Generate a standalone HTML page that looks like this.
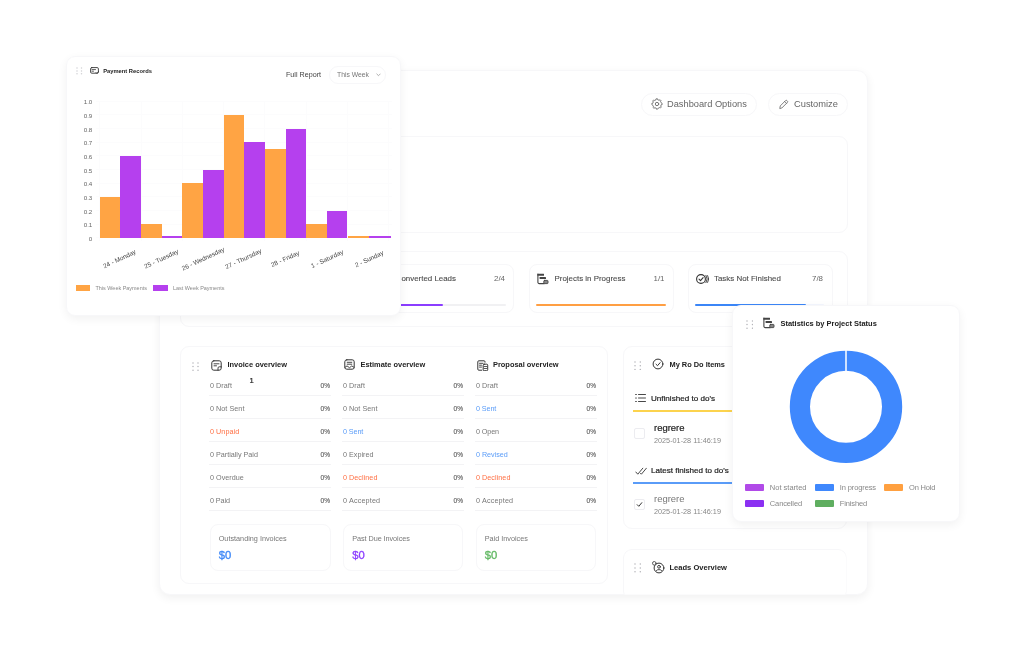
<!DOCTYPE html>
<html><head><meta charset="utf-8"><title>Dashboard</title>
<style>
html,body{margin:0;padding:0;background:#fff;}
body{width:1024px;height:651px;position:relative;overflow:hidden;font-family:"Liberation Sans",sans-serif;}
#w{position:absolute;left:0;top:0;width:1024px;height:651px;filter:blur(0.45px);}
.t{position:absolute;white-space:nowrap;line-height:1;}
.b{position:absolute;box-sizing:border-box;}
</style></head><body><div id="w">
<div class="b" style="left:159px;top:69.5px;width:708.7px;height:525.5px;border-radius:11px;border:1px solid #f7f7f9;background:#fff;box-shadow:0 3px 10px rgba(0,0,0,0.06);overflow:hidden;"></div>
<div class="b" style="left:641px;top:92.5px;width:116px;height:23.0px;border-radius:11.5px;border:1px solid #f7f7f9;background:#fff;"></div>
<div class="b" style="left:767.5px;top:92.5px;width:80.0px;height:23.0px;border-radius:11.5px;border:1px solid #f7f7f9;background:#fff;"></div>
<span class="t" style="top:100.08px;font-size:9.28px;color:#666;left:667.00px;">Dashboard Options</span>
<span class="t" style="top:100.07px;font-size:9.31px;color:#666;left:794.00px;">Customize</span>
<svg class="b" style="left:650.5px;top:98px" width="12" height="12" viewBox="-6 -6 12 12" fill="none" stroke="#333" stroke-width="1" stroke-linecap="round" stroke-linejoin="round"><path d="M-0.57 -5.17 L0.57 -5.17 L0.82 -4.12 L1.71 -3.83 L3.25 -4.06 L4.06 -3.25 L3.49 -2.33 L3.92 -1.50 L5.17 -0.57 L5.17 0.57 L4.12 0.82 L3.83 1.71 L4.06 3.25 L3.25 4.06 L2.33 3.49 L1.50 3.92 L0.57 5.17 L-0.57 5.17 L-0.82 4.12 L-1.71 3.83 L-3.25 4.06 L-4.06 3.25 L-3.49 2.33 L-3.92 1.50 L-5.17 0.57 L-5.17 -0.57 L-4.12 -0.82 L-3.83 -1.71 L-4.06 -3.25 L-3.25 -4.06 L-2.33 -3.49 L-1.50 -3.92Z" stroke="#777" stroke-width="1"/><circle cx="0" cy="0" r="1.700" stroke="#777" stroke-width="1"/></svg>
<svg class="b" style="left:778px;top:98.5px" width="11" height="11" viewBox="0 0 24 24" fill="none" stroke="#333" stroke-width="1" stroke-linecap="round" stroke-linejoin="round"><path d="M4 20l1-5L16.500 3.500a2.100 2.100 0 0 1 3 0l1 1a2.100 2.100 0 0 1 0 3L9 19z M14.500 5.500l4 4" stroke="#666" stroke-width="1.8"/></svg>
<div class="b" style="left:179.5px;top:136px;width:668.0px;height:96.5px;border-radius:9px;border:1px solid #f7f7f9;background:#fff;"></div>
<div class="b" style="left:179.5px;top:251px;width:668.0px;height:76px;border-radius:9px;border:1px solid #f7f7f9;background:#fff;"></div>
<div class="b" style="left:368px;top:263.5px;width:146px;height:49.5px;border-radius:8px;border:1px solid #f7f7f9;background:#fff;"></div>
<div class="b" style="left:528.5px;top:263.5px;width:145.5px;height:49.5px;border-radius:8px;border:1px solid #f7f7f9;background:#fff;"></div>
<div class="b" style="left:687.5px;top:263.5px;width:145.5px;height:49.5px;border-radius:8px;border:1px solid #f7f7f9;background:#fff;"></div>
<span class="t" style="top:274.80px;font-size:7.93px;color:#4a4a4a;-webkit-text-stroke:0.1px #4a4a4a;right:568.00px;">Converted Leads</span>
<span class="t" style="top:274.81px;font-size:7.91px;color:#666;left:494.00px;">2/4</span>
<span class="t" style="top:274.80px;font-size:7.93px;color:#4a4a4a;-webkit-text-stroke:0.1px #4a4a4a;left:554.50px;">Projects in Progress</span>
<span class="t" style="top:274.81px;font-size:7.91px;color:#666;right:359.50px;">1/1</span>
<span class="t" style="top:274.80px;font-size:7.93px;color:#4a4a4a;-webkit-text-stroke:0.1px #4a4a4a;left:714.00px;">Tasks Not Finished</span>
<span class="t" style="top:274.81px;font-size:7.91px;color:#666;left:812.00px;">7/8</span>
<div class="b" style="left:376.00px;top:304.00px;width:130.00px;height:2.00px;background:#f1f1f3;border-radius:1px;"></div>
<div class="b" style="left:376.00px;top:303.80px;width:67.00px;height:2.40px;background:#8b3dff;border-radius:1px;"></div>
<div class="b" style="left:536.00px;top:303.80px;width:129.50px;height:2.40px;background:#ff9f43;border-radius:1px;"></div>
<div class="b" style="left:695.00px;top:304.20px;width:129.00px;height:1.80px;background:#f3f6fe;border-radius:1px;"></div>
<div class="b" style="left:695.00px;top:303.70px;width:110.50px;height:2.50px;background:#3b86f7;border-radius:1px;"></div>
<svg class="b" style="left:537.3px;top:273.2px" width="12" height="12" viewBox="0 0 12 12" fill="none" stroke="#333" stroke-width="1" stroke-linecap="round" stroke-linejoin="round"><path d="M0.900 1v8.300a1.300 1.300 0 0 0 1.300 1.300h5" stroke="#444" stroke-width="1.100"/><rect x="0.400" y="0.800" width="6.600" height="2" rx="0.300" fill="#444" stroke="none"/><rect x="2.600" y="4.100" width="6.400" height="2" rx="0.300" fill="#444" stroke="none"/><rect x="6.800" y="7.400" width="4.200" height="3.200" rx="0.700" fill="#888" stroke="#444" stroke-width="0.900"/></svg>
<svg class="b" style="left:694.7px;top:272.5px" width="14" height="12" viewBox="0 0 14 12" fill="none" stroke="#333" stroke-width="1" stroke-linecap="round" stroke-linejoin="round"><circle cx="6" cy="6" r="4.400" stroke-width="1.1"/><path d="M4 6.200l1.500 1.500 2.600-3" stroke-width="1.1"/><path d="M11 2.300a6.500 6.500 0 0 1 0 7.400M12.700 2.600a6.500 6.500 0 0 1 0 6.800" stroke-width="0.900"/></svg>
<div class="b" style="left:179.5px;top:346px;width:428.0px;height:238px;border-radius:9px;border:1px solid #f7f7f9;background:#fff;"></div>
<svg class="b" style="left:192px;top:361.6px" width="7" height="9.2"><circle cx="1" cy="1.0" r="0.75" fill="#b4b4b9"/><circle cx="1" cy="4.6" r="0.75" fill="#b4b4b9"/><circle cx="1" cy="8.2" r="0.75" fill="#b4b4b9"/><circle cx="6" cy="1.0" r="0.75" fill="#b4b4b9"/><circle cx="6" cy="4.6" r="0.75" fill="#b4b4b9"/><circle cx="6" cy="8.2" r="0.75" fill="#b4b4b9"/></svg>
<span class="t" style="top:361.06px;font-size:7.43px;color:#222;font-weight:bold;left:227.50px;">Invoice overview</span>
<span class="t" style="top:361.06px;font-size:7.43px;color:#222;font-weight:bold;left:360.50px;">Estimate overview</span>
<span class="t" style="top:361.06px;font-size:7.43px;color:#222;font-weight:bold;left:493.00px;">Proposal overview</span>
<svg class="b" style="left:211px;top:359.5px" width="11" height="11" viewBox="0 0 11 11" fill="none" stroke="#333" stroke-width="1" stroke-linecap="round" stroke-linejoin="round"><rect x="0.800" y="0.800" width="9.400" height="9.400" rx="2" /><path d="M3 3.800h5M3 5.800h2.500M10.200 6.800h-2a1.200 1.200 0 0 0-1.200 1.200v2.200" stroke-width="0.900"/></svg>
<svg class="b" style="left:343.5px;top:358.9px" width="11" height="11" viewBox="0 0 11 11" fill="none" stroke="#333" stroke-width="1" stroke-linecap="round" stroke-linejoin="round"><rect x="0.800" y="0.800" width="9.400" height="9.400" rx="2" /><path d="M3.200 3.300h4.600M3.200 5.200h4.600M0.800 8.500l2.200-1.600 2.500 1.800 2.300-1.800 2.400 1.600" stroke-width="0.900"/></svg>
<svg class="b" style="left:477px;top:359.5px" width="11.5" height="11.5" viewBox="0 0 11.5 11.5" fill="none" stroke="#333" stroke-width="1" stroke-linecap="round" stroke-linejoin="round"><path d="M8 2.200v-.4a1 1 0 0 0-1-1h-5.200a1 1 0 0 0-1 1v7.400a1 1 0 0 0 1 1h3" /><path d="M2.500 3.300h3.500M2.500 5.200h2M2.500 7.100h2" stroke-width="0.900"/><rect x="6.200" y="4.200" width="4.500" height="6.500" rx="1"/><path d="M7.300 6.500h2.300M7.300 8.500h2.300" stroke-width="0.800"/></svg>
<span class="t" style="top:381.78px;font-size:7.2px;color:#777;left:210.00px;letter-spacing:0.056px;">0 Draft</span>
<span class="t" style="top:382.82px;font-size:6.57px;color:#555;-webkit-text-stroke:0.1px #555;right:694.00px;">0%</span>
<div class="b" style="left:209.00px;top:395.10px;width:122.00px;height:1.00px;background:#f3f3f5;border-radius:0px;"></div>
<span class="t" style="top:404.88px;font-size:7.2px;color:#777;left:210.00px;letter-spacing:0.048px;">0 Not Sent</span>
<span class="t" style="top:405.92px;font-size:6.57px;color:#555;-webkit-text-stroke:0.1px #555;right:694.00px;">0%</span>
<div class="b" style="left:209.00px;top:418.20px;width:122.00px;height:1.00px;background:#f3f3f5;border-radius:0px;"></div>
<span class="t" style="top:427.88px;font-size:7.2px;color:#ff6f43;left:210.00px;letter-spacing:0.054px;">0 Unpaid</span>
<span class="t" style="top:428.92px;font-size:6.57px;color:#555;-webkit-text-stroke:0.1px #555;right:694.00px;">0%</span>
<div class="b" style="left:209.00px;top:441.20px;width:122.00px;height:1.00px;background:#f3f3f5;border-radius:0px;"></div>
<span class="t" style="top:450.88px;font-size:7.2px;color:#777;left:210.00px;letter-spacing:-0.002px;">0 Partially Paid</span>
<span class="t" style="top:451.92px;font-size:6.57px;color:#555;-webkit-text-stroke:0.1px #555;right:694.00px;">0%</span>
<div class="b" style="left:209.00px;top:464.20px;width:122.00px;height:1.00px;background:#f3f3f5;border-radius:0px;"></div>
<span class="t" style="top:473.98px;font-size:7.2px;color:#777;left:210.00px;letter-spacing:0.014px;">0 Overdue</span>
<span class="t" style="top:475.02px;font-size:6.57px;color:#555;-webkit-text-stroke:0.1px #555;right:694.00px;">0%</span>
<div class="b" style="left:209.00px;top:487.30px;width:122.00px;height:1.00px;background:#f3f3f5;border-radius:0px;"></div>
<span class="t" style="top:497.08px;font-size:7.2px;color:#777;left:210.00px;letter-spacing:-0.069px;">0 Paid</span>
<span class="t" style="top:498.12px;font-size:6.57px;color:#555;-webkit-text-stroke:0.1px #555;right:694.00px;">0%</span>
<div class="b" style="left:209.00px;top:510.40px;width:122.00px;height:1.00px;background:#f3f3f5;border-radius:0px;"></div>
<span class="t" style="top:381.78px;font-size:7.2px;color:#777;left:343.00px;letter-spacing:0.056px;">0 Draft</span>
<span class="t" style="top:382.82px;font-size:6.57px;color:#555;-webkit-text-stroke:0.1px #555;right:561.00px;">0%</span>
<div class="b" style="left:342.00px;top:395.10px;width:122.00px;height:1.00px;background:#f3f3f5;border-radius:0px;"></div>
<span class="t" style="top:404.88px;font-size:7.2px;color:#777;left:343.00px;letter-spacing:0.048px;">0 Not Sent</span>
<span class="t" style="top:405.92px;font-size:6.57px;color:#555;-webkit-text-stroke:0.1px #555;right:561.00px;">0%</span>
<div class="b" style="left:342.00px;top:418.20px;width:122.00px;height:1.00px;background:#f3f3f5;border-radius:0px;"></div>
<span class="t" style="top:427.88px;font-size:7.2px;color:#5a9cf8;left:343.00px;letter-spacing:-0.086px;">0 Sent</span>
<span class="t" style="top:428.92px;font-size:6.57px;color:#555;-webkit-text-stroke:0.1px #555;right:561.00px;">0%</span>
<div class="b" style="left:342.00px;top:441.20px;width:122.00px;height:1.00px;background:#f3f3f5;border-radius:0px;"></div>
<span class="t" style="top:450.88px;font-size:7.2px;color:#777;left:343.00px;letter-spacing:0.020px;">0 Expired</span>
<span class="t" style="top:451.92px;font-size:6.57px;color:#555;-webkit-text-stroke:0.1px #555;right:561.00px;">0%</span>
<div class="b" style="left:342.00px;top:464.20px;width:122.00px;height:1.00px;background:#f3f3f5;border-radius:0px;"></div>
<span class="t" style="top:473.98px;font-size:7.2px;color:#ff6f43;left:343.00px;letter-spacing:0.048px;">0 Declined</span>
<span class="t" style="top:475.02px;font-size:6.57px;color:#555;-webkit-text-stroke:0.1px #555;right:561.00px;">0%</span>
<div class="b" style="left:342.00px;top:487.30px;width:122.00px;height:1.00px;background:#f3f3f5;border-radius:0px;"></div>
<span class="t" style="top:497.08px;font-size:7.2px;color:#777;left:343.00px;letter-spacing:0.167px;">0 Accepted</span>
<span class="t" style="top:498.12px;font-size:6.57px;color:#555;-webkit-text-stroke:0.1px #555;right:561.00px;">0%</span>
<div class="b" style="left:342.00px;top:510.40px;width:122.00px;height:1.00px;background:#f3f3f5;border-radius:0px;"></div>
<span class="t" style="top:381.78px;font-size:7.2px;color:#777;left:476.00px;letter-spacing:0.056px;">0 Draft</span>
<span class="t" style="top:382.82px;font-size:6.57px;color:#555;-webkit-text-stroke:0.1px #555;right:428.00px;">0%</span>
<div class="b" style="left:475.00px;top:395.10px;width:122.00px;height:1.00px;background:#f3f3f5;border-radius:0px;"></div>
<span class="t" style="top:404.88px;font-size:7.2px;color:#5a9cf8;left:476.00px;letter-spacing:-0.086px;">0 Sent</span>
<span class="t" style="top:405.92px;font-size:6.57px;color:#555;-webkit-text-stroke:0.1px #555;right:428.00px;">0%</span>
<div class="b" style="left:475.00px;top:418.20px;width:122.00px;height:1.00px;background:#f3f3f5;border-radius:0px;"></div>
<span class="t" style="top:427.88px;font-size:7.2px;color:#777;left:476.00px;letter-spacing:-0.103px;">0 Open</span>
<span class="t" style="top:428.92px;font-size:6.57px;color:#555;-webkit-text-stroke:0.1px #555;right:428.00px;">0%</span>
<div class="b" style="left:475.00px;top:441.20px;width:122.00px;height:1.00px;background:#f3f3f5;border-radius:0px;"></div>
<span class="t" style="top:450.88px;font-size:7.2px;color:#5a9cf8;left:476.00px;letter-spacing:-0.035px;">0 Revised</span>
<span class="t" style="top:451.92px;font-size:6.57px;color:#555;-webkit-text-stroke:0.1px #555;right:428.00px;">0%</span>
<div class="b" style="left:475.00px;top:464.20px;width:122.00px;height:1.00px;background:#f3f3f5;border-radius:0px;"></div>
<span class="t" style="top:473.98px;font-size:7.2px;color:#ff6f43;left:476.00px;letter-spacing:0.048px;">0 Declined</span>
<span class="t" style="top:475.02px;font-size:6.57px;color:#555;-webkit-text-stroke:0.1px #555;right:428.00px;">0%</span>
<div class="b" style="left:475.00px;top:487.30px;width:122.00px;height:1.00px;background:#f3f3f5;border-radius:0px;"></div>
<span class="t" style="top:497.08px;font-size:7.2px;color:#777;left:476.00px;letter-spacing:0.167px;">0 Accepted</span>
<span class="t" style="top:498.12px;font-size:6.57px;color:#555;-webkit-text-stroke:0.1px #555;right:428.00px;">0%</span>
<div class="b" style="left:475.00px;top:510.40px;width:122.00px;height:1.00px;background:#f3f3f5;border-radius:0px;"></div>
<span class="t" style="top:377.17px;font-size:7.6px;color:#222;-webkit-text-stroke:0.2px #222;left:249.60px;">1</span>
<div class="b" style="left:209.5px;top:523.5px;width:121.0px;height:47.5px;border-radius:8px;border:1px solid #f7f7f9;background:#fff;"></div>
<span class="t" style="top:535.14px;font-size:7.28px;color:#777;left:218.70px;letter-spacing:0.001px;">Outstanding Invoices</span>
<span class="t" style="top:550.04px;font-size:11.24px;color:#3b86f7;-webkit-text-stroke:0.3px #3b86f7;left:218.70px;">$0</span>
<div class="b" style="left:343px;top:523.5px;width:120px;height:47.5px;border-radius:8px;border:1px solid #f7f7f9;background:#fff;"></div>
<span class="t" style="top:535.14px;font-size:7.28px;color:#777;left:352.20px;letter-spacing:-0.057px;">Past Due Invoices</span>
<span class="t" style="top:550.04px;font-size:11.24px;color:#8b3dff;-webkit-text-stroke:0.3px #8b3dff;left:352.20px;">$0</span>
<div class="b" style="left:475.5px;top:523.5px;width:120.5px;height:47.5px;border-radius:8px;border:1px solid #f7f7f9;background:#fff;"></div>
<span class="t" style="top:535.14px;font-size:7.28px;color:#777;left:484.70px;letter-spacing:-0.008px;">Paid Invoices</span>
<span class="t" style="top:550.04px;font-size:11.24px;color:#5fb760;-webkit-text-stroke:0.3px #5fb760;left:484.70px;">$0</span>
<div class="b" style="left:622.5px;top:346px;width:224.0px;height:183px;border-radius:9px;border:1px solid #f7f7f9;background:#fff;"></div>
<svg class="b" style="left:634.3px;top:361px" width="7.3" height="9.4"><circle cx="1.0" cy="1.0" r="0.75" fill="#b4b4b9"/><circle cx="1.0" cy="4.7" r="0.75" fill="#b4b4b9"/><circle cx="1.0" cy="8.4" r="0.75" fill="#b4b4b9"/><circle cx="6.3" cy="1.0" r="0.75" fill="#b4b4b9"/><circle cx="6.3" cy="4.7" r="0.75" fill="#b4b4b9"/><circle cx="6.3" cy="8.4" r="0.75" fill="#b4b4b9"/></svg>
<svg class="b" style="left:652px;top:358px" width="12" height="12" viewBox="0 0 12 12" fill="none" stroke="#333" stroke-width="1" stroke-linecap="round" stroke-linejoin="round"><circle cx="6" cy="6" r="4.900" /><path d="M4 6.200l1.500 1.500 2.600-3"/></svg>
<span class="t" style="top:361.08px;font-size:7.4px;color:#222;font-weight:bold;left:669.50px;">My Ro Do Items</span>
<svg class="b" style="left:634.5px;top:393px" width="11" height="10" viewBox="0 0 11 10" fill="none" stroke="#333" stroke-width="1" stroke-linecap="round" stroke-linejoin="round"><path d="M3.500 1.500h7M3.500 5h7M3.500 8.500h7" stroke-width="0.900"/><path d="M0.700 1.500h.6M0.700 5h.6M0.700 8.500h.6" stroke-width="1.100"/></svg>
<span class="t" style="top:394.72px;font-size:8.08px;color:#222;-webkit-text-stroke:0.2px #222;left:651.00px;">Unfinished to do's</span>
<div class="b" style="left:633.00px;top:410.00px;width:201.00px;height:2.00px;background:#fcd34d;border-radius:0px;"></div>
<div class="b" style="left:634px;top:428px;width:11px;height:11px;border-radius:2px;border:1px solid #ececf0;background:#fff;"></div>
<span class="t" style="top:422.59px;font-size:9.46px;color:#222;-webkit-text-stroke:0.2px #222;left:654.00px;">regrere</span>
<span class="t" style="top:436.85px;font-size:7.27px;color:#888;left:654.00px;">2025-01-28 11:46:19</span>
<svg class="b" style="left:634.5px;top:465.5px" width="12" height="10" viewBox="0 0 12 10" fill="none" stroke="#333" stroke-width="1" stroke-linecap="round" stroke-linejoin="round"><path d="M0.800 6l2 2.200 5-6M5.500 7.300l.9.900 5-6" stroke-width="0.900"/></svg>
<span class="t" style="top:467.21px;font-size:8.09px;color:#222;-webkit-text-stroke:0.2px #222;left:651.00px;">Latest finished to do's</span>
<div class="b" style="left:633.00px;top:481.50px;width:201.00px;height:2.00px;background:#5a9cf8;border-radius:0px;"></div>
<div class="b" style="left:634px;top:499px;width:11px;height:11px;border-radius:2px;border:1px solid #ececf0;background:#fff;"></div>
<svg class="b" style="left:636.2px;top:501.2px" width="7" height="7" viewBox="0 0 7 7" fill="none" stroke="#333" stroke-width="1" stroke-linecap="round" stroke-linejoin="round"><path d="M1.200 3.700l1.600 1.600 3-3.600" stroke-width="1"/></svg>
<span class="t" style="top:494.09px;font-size:9.46px;color:#777;left:654.00px;">regrere</span>
<span class="t" style="top:508.35px;font-size:7.27px;color:#888;left:654.00px;">2025-01-28 11:46:19</span>
<div class="b" style="left:622.5px;top:548.5px;width:224.0px;height:51.5px;border-radius:9px;border:1px solid #f7f7f9;background:#fff;clip-path:inset(0 0 5.5px 0);"></div>
<svg class="b" style="left:634.3px;top:563.4px" width="7.3" height="9.8"><circle cx="1.0" cy="1.0" r="0.75" fill="#b4b4b9"/><circle cx="1.0" cy="4.9" r="0.75" fill="#b4b4b9"/><circle cx="1.0" cy="8.8" r="0.75" fill="#b4b4b9"/><circle cx="6.3" cy="1.0" r="0.75" fill="#b4b4b9"/><circle cx="6.3" cy="4.9" r="0.75" fill="#b4b4b9"/><circle cx="6.3" cy="8.8" r="0.75" fill="#b4b4b9"/></svg>
<svg class="b" style="left:652px;top:560.5px" width="13" height="13" viewBox="0 0 13 13" fill="none" stroke="#333" stroke-width="1" stroke-linecap="round" stroke-linejoin="round"><circle cx="7" cy="7" r="4.900"/><circle cx="7" cy="5.800" r="1.400" stroke-width="0.900"/><path d="M4.300 9.500c.6-1.300 4.800-1.300 5.400 0" stroke-width="0.900"/><circle cx="2.300" cy="2.300" r="1.800" fill="#fff" stroke-width="0.800"/></svg>
<span class="t" style="top:564.00px;font-size:7.55px;color:#222;font-weight:bold;left:669.50px;">Leads Overview</span>
<div class="b" style="left:66px;top:56px;width:334.5px;height:260px;border-radius:9px;border:1px solid #f7f7f9;background:#fff;box-shadow:0 3px 10px rgba(0,0,0,0.055);"></div>
<svg class="b" style="left:76px;top:67.3px" width="6.5" height="7.8"><circle cx="1.0" cy="1.0" r="0.75" fill="#d0d0d4"/><circle cx="1.0" cy="3.9" r="0.75" fill="#d0d0d4"/><circle cx="1.0" cy="6.8" r="0.75" fill="#d0d0d4"/><circle cx="5.5" cy="1.0" r="0.75" fill="#d0d0d4"/><circle cx="5.5" cy="3.9" r="0.75" fill="#d0d0d4"/><circle cx="5.5" cy="6.8" r="0.75" fill="#d0d0d4"/></svg>
<svg class="b" style="left:90px;top:66.2px" width="9" height="9" viewBox="0 0 9 9" fill="none" stroke="#333" stroke-width="1" stroke-linecap="round" stroke-linejoin="round"><rect x="0.600" y="1.600" width="7.800" height="5.600" rx="1.200" stroke-width="0.900"/><path d="M2 3.600h3.500M2 5.200h1.500M6 6.500l1 1 1.500-2" stroke-width="0.800"/></svg>
<span class="t" style="top:68.94px;font-size:5.78px;color:#222;font-weight:bold;left:103.20px;">Payment Records</span>
<span class="t" style="top:71.71px;font-size:7.16px;color:#444;left:286.00px;">Full Report</span>
<div class="b" style="left:329px;top:65.5px;width:57px;height:18.0px;border-radius:9px;border:1px solid #f7f7f9;background:#fff;"></div>
<span class="t" style="top:71.90px;font-size:6.8px;color:#777;left:337.00px;">This Week</span>
<svg class="b" style="left:375.5px;top:72.5px" width="5" height="4" viewBox="0 0 5 4" fill="none" stroke="#333" stroke-width="1" stroke-linecap="round" stroke-linejoin="round"><path d="M0.800 1l1.700 1.700L4.200 1" stroke="#999" stroke-width="0.800"/></svg>
<div class="b" style="left:96.00px;top:237.30px;width:296.00px;height:1.00px;background:#fcfcfd;border-radius:0px;"></div>
<span class="t" style="top:235.81px;font-size:6.2px;color:#666;right:931.70px;">0</span>
<div class="b" style="left:96.00px;top:223.65px;width:296.00px;height:1.00px;background:#fcfcfd;border-radius:0px;"></div>
<span class="t" style="top:222.16px;font-size:6.2px;color:#666;right:931.70px;">0.1</span>
<div class="b" style="left:96.00px;top:210.00px;width:296.00px;height:1.00px;background:#fcfcfd;border-radius:0px;"></div>
<span class="t" style="top:208.51px;font-size:6.2px;color:#666;right:931.70px;">0.2</span>
<div class="b" style="left:96.00px;top:196.35px;width:296.00px;height:1.00px;background:#fcfcfd;border-radius:0px;"></div>
<span class="t" style="top:194.86px;font-size:6.2px;color:#666;right:931.70px;">0.3</span>
<div class="b" style="left:96.00px;top:182.70px;width:296.00px;height:1.00px;background:#fcfcfd;border-radius:0px;"></div>
<span class="t" style="top:181.21px;font-size:6.2px;color:#666;right:931.70px;">0.4</span>
<div class="b" style="left:96.00px;top:169.05px;width:296.00px;height:1.00px;background:#fcfcfd;border-radius:0px;"></div>
<span class="t" style="top:167.56px;font-size:6.2px;color:#666;right:931.70px;">0.5</span>
<div class="b" style="left:96.00px;top:155.40px;width:296.00px;height:1.00px;background:#fcfcfd;border-radius:0px;"></div>
<span class="t" style="top:153.91px;font-size:6.2px;color:#666;right:931.70px;">0.6</span>
<div class="b" style="left:96.00px;top:141.75px;width:296.00px;height:1.00px;background:#fcfcfd;border-radius:0px;"></div>
<span class="t" style="top:140.26px;font-size:6.2px;color:#666;right:931.70px;">0.7</span>
<div class="b" style="left:96.00px;top:128.10px;width:296.00px;height:1.00px;background:#fcfcfd;border-radius:0px;"></div>
<span class="t" style="top:126.61px;font-size:6.2px;color:#666;right:931.70px;">0.8</span>
<div class="b" style="left:96.00px;top:114.45px;width:296.00px;height:1.00px;background:#fcfcfd;border-radius:0px;"></div>
<span class="t" style="top:112.96px;font-size:6.2px;color:#666;right:931.70px;">0.9</span>
<div class="b" style="left:96.00px;top:100.80px;width:296.00px;height:1.00px;background:#fcfcfd;border-radius:0px;"></div>
<span class="t" style="top:99.31px;font-size:6.2px;color:#666;right:931.70px;">1.0</span>
<div class="b" style="left:99.20px;top:101.30px;width:1.00px;height:139.50px;background:#fcfcfd;border-radius:0px;"></div>
<div class="b" style="left:140.50px;top:101.30px;width:1.00px;height:139.50px;background:#fcfcfd;border-radius:0px;"></div>
<div class="b" style="left:181.80px;top:101.30px;width:1.00px;height:139.50px;background:#fcfcfd;border-radius:0px;"></div>
<div class="b" style="left:223.10px;top:101.30px;width:1.00px;height:139.50px;background:#fcfcfd;border-radius:0px;"></div>
<div class="b" style="left:264.40px;top:101.30px;width:1.00px;height:139.50px;background:#fcfcfd;border-radius:0px;"></div>
<div class="b" style="left:305.70px;top:101.30px;width:1.00px;height:139.50px;background:#fcfcfd;border-radius:0px;"></div>
<div class="b" style="left:347.00px;top:101.30px;width:1.00px;height:139.50px;background:#fcfcfd;border-radius:0px;"></div>
<div class="b" style="left:388.30px;top:101.30px;width:1.00px;height:139.50px;background:#fcfcfd;border-radius:0px;"></div>
<div class="b" style="left:99.70px;top:196.85px;width:20.65px;height:40.95px;background:#ffa444;border-radius:0px;"></div>
<div class="b" style="left:120.35px;top:155.90px;width:20.65px;height:81.90px;background:#b540ee;border-radius:0px;"></div>
<div class="b" style="left:141.00px;top:224.15px;width:20.65px;height:13.65px;background:#ffa444;border-radius:0px;"></div>
<div class="b" style="left:161.65px;top:235.62px;width:20.95px;height:2.18px;background:#b540ee;border-radius:0px;"></div>
<div class="b" style="left:182.30px;top:183.20px;width:20.65px;height:54.60px;background:#ffa444;border-radius:0px;"></div>
<div class="b" style="left:202.95px;top:169.55px;width:20.65px;height:68.25px;background:#b540ee;border-radius:0px;"></div>
<div class="b" style="left:223.60px;top:114.95px;width:20.65px;height:122.85px;background:#ffa444;border-radius:0px;"></div>
<div class="b" style="left:244.25px;top:142.25px;width:20.65px;height:95.55px;background:#b540ee;border-radius:0px;"></div>
<div class="b" style="left:264.90px;top:149.07px;width:20.65px;height:88.73px;background:#ffa444;border-radius:0px;"></div>
<div class="b" style="left:285.55px;top:128.60px;width:20.65px;height:109.20px;background:#b540ee;border-radius:0px;"></div>
<div class="b" style="left:306.20px;top:224.15px;width:20.65px;height:13.65px;background:#ffa444;border-radius:0px;"></div>
<div class="b" style="left:326.85px;top:210.50px;width:20.65px;height:27.30px;background:#b540ee;border-radius:0px;"></div>
<div class="b" style="left:347.50px;top:235.75px;width:21.65px;height:2.05px;background:#ffa444;border-radius:0px;"></div>
<div class="b" style="left:369.15px;top:235.75px;width:21.95px;height:2.05px;background:#b540ee;border-radius:0px;"></div>
<span class="t" style="left:102.36px;top:256.21px;font-size:6.4px;color:#444;transform:rotate(-25.3deg);transform-origin:50% 53%;">24 - Monday</span>
<span class="t" style="left:142.95px;top:256.21px;font-size:6.4px;color:#444;transform:rotate(-25.3deg);transform-origin:50% 53%;">25 - Tuesday</span>
<span class="t" style="left:179.51px;top:256.21px;font-size:6.4px;color:#444;transform:rotate(-25.3deg);transform-origin:50% 53%;">26 - Wednesday</span>
<span class="t" style="left:224.37px;top:256.21px;font-size:6.4px;color:#444;transform:rotate(-25.3deg);transform-origin:50% 53%;">27 - Thursday</span>
<span class="t" style="left:270.06px;top:256.21px;font-size:6.4px;color:#444;transform:rotate(-25.3deg);transform-origin:50% 53%;">28 - Friday</span>
<span class="t" style="left:310.02px;top:256.21px;font-size:6.4px;color:#444;transform:rotate(-25.3deg);transform-origin:50% 53%;">1 - Saturday</span>
<span class="t" style="left:354.47px;top:256.21px;font-size:6.4px;color:#444;transform:rotate(-25.3deg);transform-origin:50% 53%;">2 - Sunday</span>
<div class="b" style="left:75.70px;top:285.40px;width:14.30px;height:5.60px;background:#ffa444;border-radius:0px;"></div>
<div class="b" style="left:153.30px;top:285.40px;width:14.70px;height:5.60px;background:#b540ee;border-radius:0px;"></div>
<span class="t" style="top:286.31px;font-size:5.46px;color:#888;left:95.50px;">This Week Payments</span>
<span class="t" style="top:286.31px;font-size:5.46px;color:#888;left:173.00px;">Last Week Payments</span>
<div class="b" style="left:732px;top:304.5px;width:228px;height:217.0px;border-radius:9px;border:1px solid #f7f7f9;background:#fff;box-shadow:0 3px 10px rgba(0,0,0,0.055);"></div>
<svg class="b" style="left:745.5px;top:319.5px" width="7.5" height="9.2"><circle cx="1.0" cy="1.0" r="0.75" fill="#b4b4b9"/><circle cx="1.0" cy="4.6" r="0.75" fill="#b4b4b9"/><circle cx="1.0" cy="8.2" r="0.75" fill="#b4b4b9"/><circle cx="6.5" cy="1.0" r="0.75" fill="#b4b4b9"/><circle cx="6.5" cy="4.6" r="0.75" fill="#b4b4b9"/><circle cx="6.5" cy="8.2" r="0.75" fill="#b4b4b9"/></svg>
<svg class="b" style="left:763.4px;top:317.4px" width="12" height="12" viewBox="0 0 12 12" fill="none" stroke="#333" stroke-width="1" stroke-linecap="round" stroke-linejoin="round"><path d="M0.900 1v8.300a1.300 1.300 0 0 0 1.300 1.300h5" stroke="#444" stroke-width="1.100"/><rect x="0.400" y="0.800" width="6.600" height="2" rx="0.300" fill="#444" stroke="none"/><rect x="2.600" y="4.100" width="6.400" height="2" rx="0.300" fill="#444" stroke="none"/><rect x="6.800" y="7.400" width="4.200" height="3.200" rx="0.700" fill="#888" stroke="#444" stroke-width="0.900"/></svg>
<span class="t" style="top:320.04px;font-size:7.48px;color:#222;font-weight:bold;left:780.50px;">Statistics by Project Status</span>
<svg class="b" style="left:786px;top:346px" width="120" height="120" viewBox="-60 -60 120 120"><circle cx="0" cy="0.85" r="46.1" fill="none" stroke="#3f88fd" stroke-width="20.2"/><rect x="-0.750" y="-56.5" width="1.500" height="21.500" fill="#fff"/></svg>
<div class="b" style="left:744.50px;top:483.50px;width:19.00px;height:7.00px;background:#b14ae8;border-radius:1px;"></div>
<span class="t" style="top:483.62px;font-size:7.51px;color:#888;left:769.80px;letter-spacing:0.002px;">Not started</span>
<div class="b" style="left:814.50px;top:483.50px;width:19.00px;height:7.00px;background:#3f88fd;border-radius:1px;"></div>
<span class="t" style="top:483.62px;font-size:7.51px;color:#888;left:839.80px;letter-spacing:-0.120px;">In progress</span>
<div class="b" style="left:883.80px;top:483.50px;width:19.00px;height:7.00px;background:#ffa040;border-radius:1px;"></div>
<span class="t" style="top:483.62px;font-size:7.51px;color:#888;left:909.10px;letter-spacing:-0.186px;">On Hold</span>
<div class="b" style="left:744.50px;top:499.50px;width:19.00px;height:7.00px;background:#8b30f2;border-radius:1px;"></div>
<span class="t" style="top:499.62px;font-size:7.51px;color:#888;left:769.80px;letter-spacing:-0.128px;">Cancelled</span>
<div class="b" style="left:814.50px;top:499.50px;width:19.00px;height:7.00px;background:#5fae60;border-radius:1px;"></div>
<span class="t" style="top:499.62px;font-size:7.51px;color:#888;left:839.80px;letter-spacing:-0.142px;">Finished</span>
</div></body></html>
